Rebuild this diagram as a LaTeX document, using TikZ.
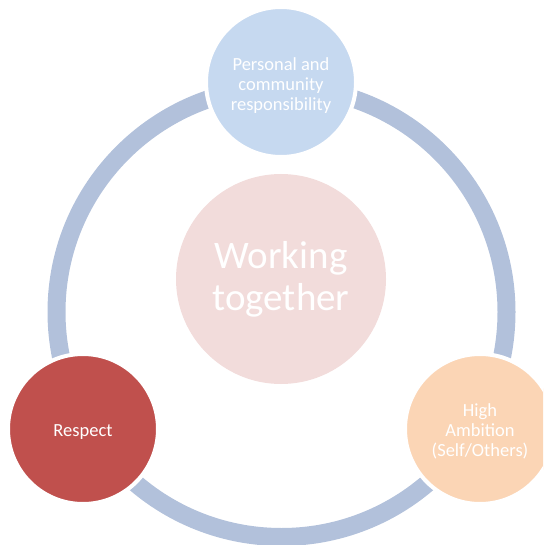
\documentclass[tikz,border=0pt]{standalone}
\usepackage{fontspec}
\setmainfont{Carlito}
\definecolor{ringblue}{HTML}{B2C1DB}
\definecolor{topblue}{HTML}{C6D9F0}
\definecolor{centerpink}{HTML}{F2DCDB}
\definecolor{respectred}{HTML}{C0504D}
\definecolor{peach}{HTML}{FBD5B5}
\tikzset{
  satellite/.style={circle, minimum size=150pt, inner sep=0pt, draw=white, line width=4pt},
  sattext/.style={inner sep=0pt, text=white, align=center, font=\fontsize{18.5}{20}\selectfont},
  hub/.style={circle, minimum size=210pt, inner sep=0pt, fill=centerpink, text=white, align=center, font=\fontsize{39}{42}\selectfont},
  ringline/.style={draw=ringblue, line width=18pt}
}
\begin{document}
\begin{tikzpicture}[x=1pt,y=-1pt]
\useasboundingbox (0,0) rectangle (543,545);
\clip (0,0) rectangle (543,545);
\coordinate (rc) at (281.5,312);
\draw[ringline] (rc) circle[radius=225pt];
\node[hub] (hubnode) at (281,279) {Working\\together};
\node[satellite, fill=topblue] (top) at (281,82) {};
\node[sattext] (toptext) at ([yshift=-4pt]top.center) {Personal and\\community\\responsibility};
\node[satellite, fill=respectred] (respect) at (83,429) {};
\node[sattext] (respecttext) at ([yshift=-3pt]respect.center) {Respect};
\node[satellite, fill=peach] (ambition) at (480,429) {};
\node[sattext] (ambitiontext) at ([yshift=-2pt]ambition.center) {High\\Ambition\\(Self/Others)};
\end{tikzpicture}
\end{document}
